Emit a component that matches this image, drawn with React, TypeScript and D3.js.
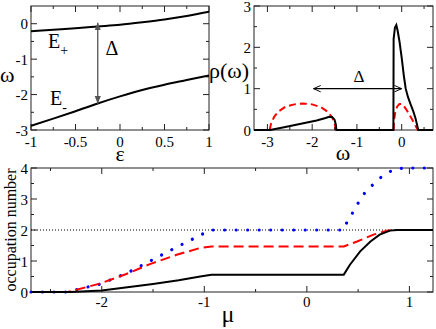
import React from "react";
import * as d3 from "d3";

// top-left panel: the two branches E+ / E- against epsilon
const epsGrid = [-1, -0.75, -0.5, -0.25, 0, 0.25, 0.5, 0.75, 1];
const ePlus = [-0.21, -0.17, -0.13, -0.08, -0.03, 0.04, 0.12, 0.22, 0.34];
const eMinus = [-2.88, -2.68, -2.47, -2.25, -2.05, -1.87, -1.72, -1.59, -1.46];
const gapEps = -0.25;
const gapEnds = [0.03, -2.26];

// top-right panel: spectral function rho(omega)
const rhoW = [-3.3, -2.94, -2.6, -2.25, -1.9, -1.7, -1.62, -1.55, -1.5, -1.47, -1.46,
  -0.185, -0.18, -0.15, -0.12, -0.09, -0.05, 0, 0.05, 0.09, 0.14, 0.2, 0.26, 0.31, 0.35, 0.37, 0.7];
const rhoV = [0, 0, 0.07, 0.15, 0.23, 0.29, 0.32, 0.31, 0.25, 0.12, 0,
  0, 2.2, 2.48, 2.54, 2.4, 2.15, 1.75, 1.3, 1.0, 0.8, 0.62, 0.45, 0.28, 0.1, 0, 0];
const redLowW = [-2.95, -2.92, -2.85, -2.75, -2.6, -2.4, -2.2, -2.0, -1.8, -1.65, -1.55, -1.5, -1.47];
const redLowV = [0, 0.15, 0.32, 0.45, 0.56, 0.62, 0.64, 0.62, 0.55, 0.44, 0.3, 0.17, 0];
const redHighW = [-0.18, -0.17, -0.14, -0.1, -0.05, 0, 0.05, 0.1, 0.17, 0.24, 0.3, 0.34, 0.36];
const redHighV = [0, 0.25, 0.45, 0.57, 0.63, 0.63, 0.58, 0.5, 0.38, 0.24, 0.12, 0.04, 0];
const deltaArrow = [-1.97, 0.0];
const deltaLevel = 1.0;

// bottom panel: occupation number vs mu
const muBlack = [-2.69, -2.3, -2.0, -1.75, -1.5, -1.25, -1.04, -0.93, 0.36, 0.42, 0.52, 0.62, 0.71, 0.81, 0.88, 1.23];
const nBlack = [0, 0, 0.05, 0.15, 0.26, 0.38, 0.5, 0.56, 0.56, 0.88, 1.31, 1.63, 1.85, 1.98, 2.0, 2.0];
const muRed = [-2.69, -2.33, -2.02, -1.76, -1.53, -1.27, -1.04, -0.93, 0.36, 0.49, 0.65, 0.78, 0.85, 1.23];
const nRed = [0, 0, 0.27, 0.58, 0.9, 1.2, 1.42, 1.47, 1.47, 1.63, 1.85, 1.98, 2.0, 2.0];
const muBlue = [-2.69, -2.35, -2.02, -1.76, -1.5, -1.24, -1.04, -0.94, 0.36, 0.39, 0.44, 0.48, 0.53, 0.58, 0.65, 0.71, 0.78, 0.86, 0.96, 1.23];
const nBlue = [0, 0, 0.25, 0.6, 1.05, 1.5, 1.83, 2.0, 2.0, 2.25, 2.52, 2.76, 3.03, 3.27, 3.48, 3.67, 3.83, 3.97, 4.0, 4.0];
const halfFilling = 2;

// tick values
const p1xMajor = [-1, -0.5, 0, 0.5, 1];
const p1xMinor = [-0.75, -0.25, 0.25, 0.75];
const p1yMajor = [-3, -2, -1, 0];
const p1yMinor = [-2.5, -1.5, -0.5];
const p2xMajor = [-3, -2, -1, 0];
const p2xMinor = [-2.5, -1.5, -0.5, 0.5];
const p2yMajor = [0, 1, 2, 3];
const p2yMinor = [0.5, 1.5, 2.5];
const p3xMajor = [-2, -1, 0, 1];
const p3xMinor = [-2.5, -1.5, -0.5, 0.5];
const p3yMajor = [0, 1, 2, 3, 4];
const p3yMinor = [0.5, 1.5, 2.5, 3.5];

const FONT = "Liberation Serif, DejaVu Serif, serif";

type Sc = d3.ScaleLinear<number, number>;

function Frame({ x, y, xMajor, xMinor, yMajor, yMinor, xLabBase, yLabRight }: {
  x: Sc; y: Sc; xMajor: number[]; xMinor: number[]; yMajor: number[]; yMinor: number[];
  xLabBase: number; yLabRight: number;
}) {
  const [x0, x1] = x.range();
  const [y0, y1] = y.range(); // y0 bottom, y1 top
  const ticks: any[] = [];
  const tick = (v: number, len: number, key: string) => {
    const px = x(v);
    ticks.push(<line key={key + "b"} x1={px} x2={px} y1={y0} y2={y0 - len} />);
    ticks.push(<line key={key + "t"} x1={px} x2={px} y1={y1} y2={y1 + len} />);
  };
  const ytick = (v: number, len: number, key: string) => {
    const py = y(v);
    ticks.push(<line key={key + "l"} x1={x0} x2={x0 + len} y1={py} y2={py} />);
    ticks.push(<line key={key + "r"} x1={x1} x2={x1 - len} y1={py} y2={py} />);
  };
  xMajor.forEach((v, i) => tick(v, 6, "xM" + i));
  xMinor.forEach((v, i) => tick(v, 3, "xm" + i));
  yMajor.forEach((v, i) => ytick(v, 6, "yM" + i));
  yMinor.forEach((v, i) => ytick(v, 3, "ym" + i));
  return (
    <g>
      <g stroke="#222" strokeWidth={1}>{ticks}</g>
      <rect x={x0} y={y1} width={x1 - x0} height={y0 - y1} fill="none" stroke="#222" strokeWidth={1} />
      <g style={{ fontFamily: FONT, fontSize: 15 }} fill="#000">
        {xMajor.map((v) => (
          <text key={"xl" + v} x={x(v)} y={xLabBase} textAnchor="middle">{String(v)}</text>
        ))}
        {yMajor.map((v) => (
          <text key={"yl" + v} x={yLabRight} y={y(v)} dy="0.38em" textAnchor="end">{String(v)}</text>
        ))}
      </g>
    </g>
  );
}

export default function App() {
  // panel 1
  const x1 = d3.scaleLinear().domain([-1, 1]).range([31, 209]);
  const y1 = d3.scaleLinear().domain([-3, 0.5]).range([130, 6]);
  const l1 = d3.line<number>().x((_, i) => x1(epsGrid[i])).y((d) => y1(d)).curve(d3.curveMonotoneX);

  // panel 2
  const x2 = d3.scaleLinear().domain([-3.3, 0.7]).range([254, 433]);
  const y2 = d3.scaleLinear().domain([0, 3]).range([130, 6]);
  const l2 = (ws: number[]) => d3.line<number>().x((_, i) => x2(ws[i])).y((d) => y2(d));

  // panel 3
  const x3 = d3.scaleLinear().domain([-2.69, 1.23]).range([31, 433]);
  const y3 = d3.scaleLinear().domain([0, 4]).range([292, 168]);
  const l3 = (ms: number[]) => d3.line<number>().x((_, i) => x3(ms[i])).y((d) => y3(d));

  return (
    <svg width={436} height={329} style={{ position: "absolute", left: 0, top: 0 }}>
      <defs>
        <marker id="grayHead" viewBox="0 0 10 10" refX={10} refY={5} markerWidth={6} markerHeight={6} orient="auto-start-reverse">
          <path d="M0,1 L10,5 L0,9 z" fill="#555" />
        </marker>
        <marker id="openHead" viewBox="0 0 10 10" refX={9} refY={5} markerWidth={8} markerHeight={8} orient="auto-start-reverse" markerUnits="userSpaceOnUse">
          <path d="M0,1 L9,5 L0,9" fill="none" stroke="#000" strokeWidth={1.2} />
        </marker>
      </defs>

      {/* top-left */}
      <Frame x={x1} y={y1} xMajor={p1xMajor} xMinor={p1xMinor} yMajor={p1yMajor} yMinor={p1yMinor} xLabBase={147} yLabRight={28} />
      <path d={l1(ePlus) || ""} fill="none" stroke="#000" strokeWidth={2} />
      <path d={l1(eMinus) || ""} fill="none" stroke="#000" strokeWidth={2} />
      <line x1={x1(gapEps)} x2={x1(gapEps)} y1={y1(gapEnds[0])} y2={y1(gapEnds[1])} stroke="#555" strokeWidth={1.3}
        markerStart="url(#grayHead)" markerEnd="url(#grayHead)" />
      <g style={{ fontFamily: FONT }} fill="#000">
        <text x={48} y={48} fontSize={20}>E<tspan fontSize={14} dy={7}>+</tspan></text>
        <text x={50} y={105} fontSize={20}>E<tspan fontSize={14} dy={7}>-</tspan></text>
        <text x={112} y={55} fontSize={20} textAnchor="middle">Δ</text>
        <text x={0} y={82} fontSize={22}>ω</text>
        <text x={120} y={161} fontSize={22} textAnchor="middle">ε</text>
      </g>

      {/* top-right */}
      <Frame x={x2} y={y2} xMajor={p2xMajor} xMinor={p2xMinor} yMajor={p2yMajor} yMinor={p2yMinor} xLabBase={147} yLabRight={251} />
      <path d={l2(redLowW)(redLowV) || ""} fill="none" stroke="#f00" strokeWidth={2} strokeDasharray="7 4" />
      <path d={l2(redHighW)(redHighV) || ""} fill="none" stroke="#f00" strokeWidth={2} strokeDasharray="7 4" />
      <path d={l2(rhoW)(rhoV) || ""} fill="none" stroke="#000" strokeWidth={2} />
      <line x1={x2(deltaArrow[0])} x2={x2(deltaArrow[1])} y1={y2(deltaLevel)} y2={y2(deltaLevel)} stroke="#000" strokeWidth={1.2}
        markerStart="url(#openHead)" markerEnd="url(#openHead)" />
      <g style={{ fontFamily: FONT }} fill="#000">
        <text x={359} y={82} fontSize={17} textAnchor="middle">Δ</text>
        <text x={209} y={78} fontSize={22}>ρ(ω)</text>
        <text x={343} y={160} fontSize={22} textAnchor="middle">ω</text>
      </g>

      {/* bottom */}
      <Frame x={x3} y={y3} xMajor={p3xMajor} xMinor={p3xMinor} yMajor={p3yMajor} yMinor={p3yMinor} xLabBase={307} yLabRight={28} />
      <line x1={x3.range()[0]} x2={x3.range()[1]} y1={y3(halfFilling)} y2={y3(halfFilling)} stroke="#000" strokeWidth={1} strokeDasharray="1 2" />
      <path d={l3(muBlue)(nBlue) || ""} fill="none" stroke="#00f" strokeWidth={3.2} strokeDasharray="0.01 11.5" strokeLinecap="round" />
      <path d={l3(muRed)(nRed) || ""} fill="none" stroke="#f00" strokeWidth={2} strokeDasharray="10 5" />
      <path d={l3(muBlack)(nBlack) || ""} fill="none" stroke="#000" strokeWidth={2} />
      <g style={{ fontFamily: FONT }} fill="#000">
        <text x={228} y={322} fontSize={24} textAnchor="middle">μ</text>
        <text transform="translate(16,230) rotate(-90)" fontSize={16} textAnchor="middle">occupation number</text>
      </g>
    </svg>
  );
}
